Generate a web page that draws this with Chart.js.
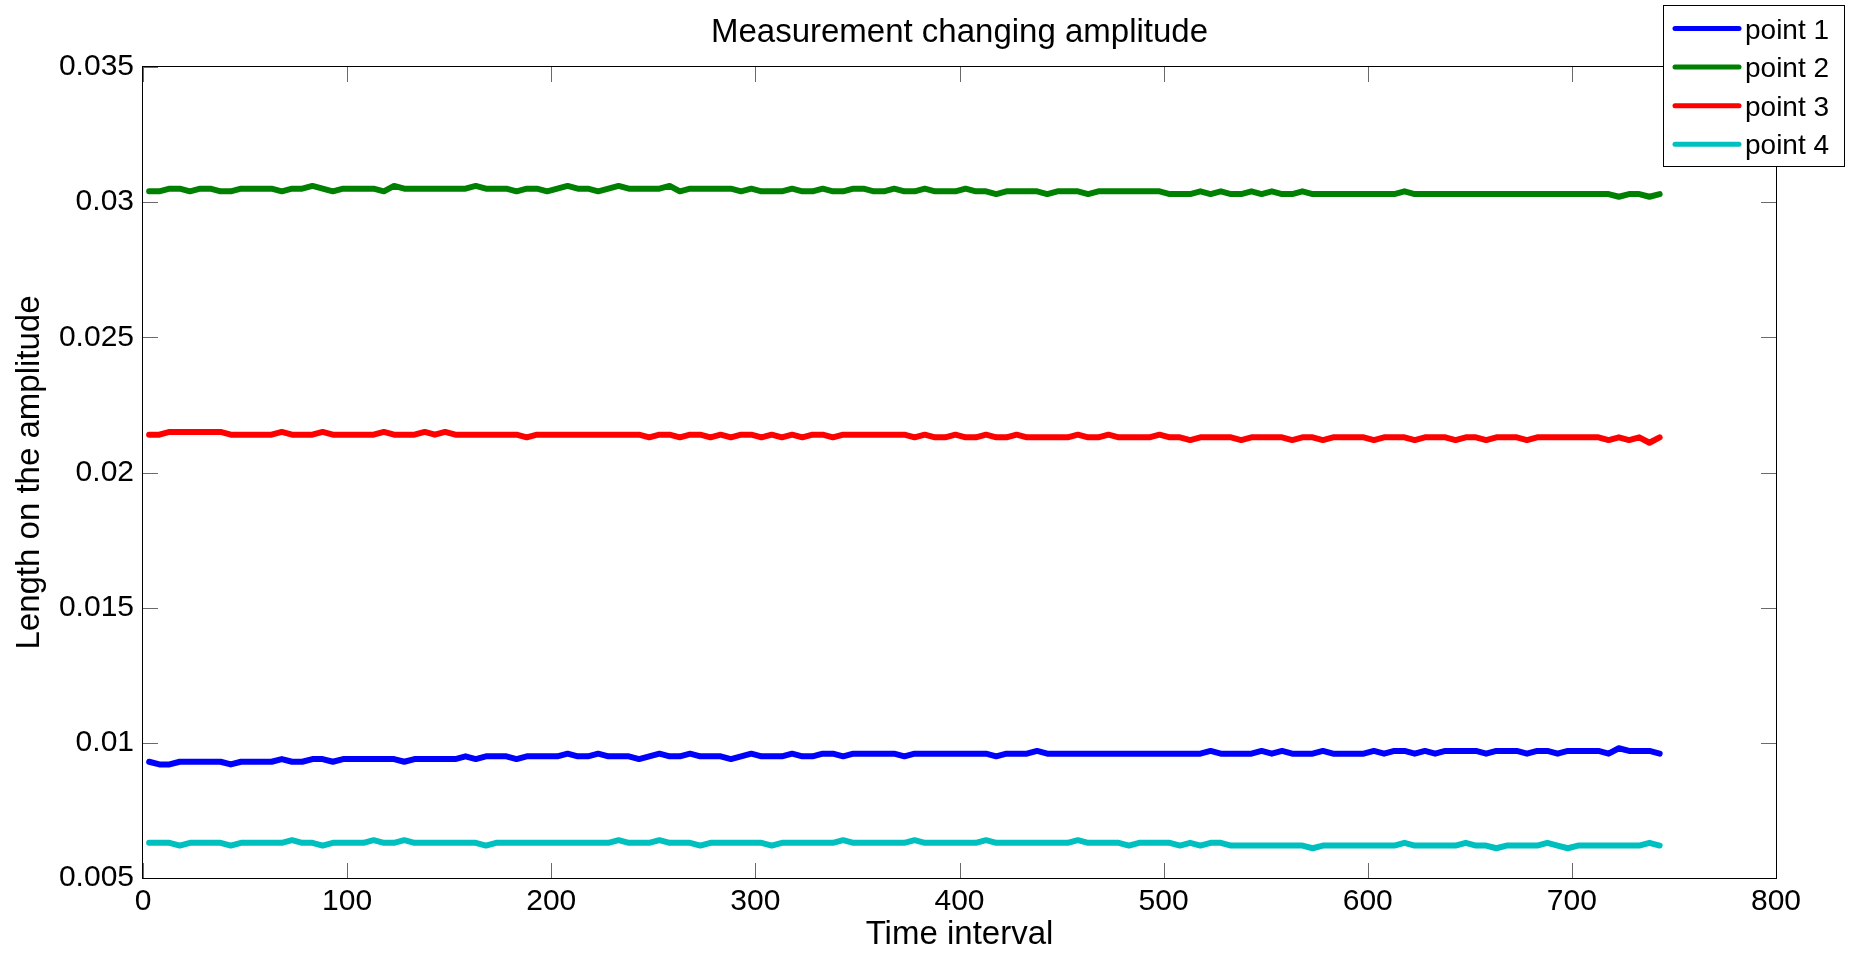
<!DOCTYPE html>
<html>
<head>
<meta charset="utf-8">
<script src="https://cdn.jsdelivr.net/npm/chart.js@4.4.1/dist/chart.umd.min.js"></script>
<style>
html, body { margin: 0; padding: 0; background: #fff; }
canvas { display: block; }
</style>
</head>
<body>
<canvas id="chart" width="1862" height="955"></canvas>
<script>
// time axis (samples) and the four measured points
const timeInterval = [
	3, 8, 13, 18, 23, 28, 33, 38, 43, 48,
	53, 58, 63, 68, 73, 78, 83, 88, 93, 98,
	103, 108, 113, 118, 123, 128, 133, 138, 143, 148,
	153, 158, 163, 168, 173, 178, 183, 188, 193, 198,
	203, 208, 213, 218, 223, 228, 233, 238, 243, 248,
	253, 258, 263, 268, 273, 278, 283, 288, 293, 298,
	303, 308, 313, 318, 323, 328, 333, 338, 343, 348,
	353, 358, 363, 368, 373, 378, 383, 388, 393, 398,
	403, 408, 413, 418, 423, 428, 433, 438, 443, 448,
	453, 458, 463, 468, 473, 478, 483, 488, 493, 498,
	503, 508, 513, 518, 523, 528, 533, 538, 543, 548,
	553, 558, 563, 568, 573, 578, 583, 588, 593, 598,
	603, 608, 613, 618, 623, 628, 633, 638, 643, 648,
	653, 658, 663, 668, 673, 678, 683, 688, 693, 698,
	703, 708, 713, 718, 723, 728, 733, 738, 743,
]

const point1 = [
	0.0093, 0.0092, 0.0092, 0.0093, 0.0093, 0.0093, 0.0093, 0.0093, 0.0092, 0.0093,
	0.0093, 0.0093, 0.0093, 0.0094, 0.0093, 0.0093, 0.0094, 0.0094, 0.0093, 0.0094,
	0.0094, 0.0094, 0.0094, 0.0094, 0.0094, 0.0093, 0.0094, 0.0094, 0.0094, 0.0094,
	0.0094, 0.0095, 0.0094, 0.0095, 0.0095, 0.0095, 0.0094, 0.0095, 0.0095, 0.0095,
	0.0095, 0.0096, 0.0095, 0.0095, 0.0096, 0.0095, 0.0095, 0.0095, 0.0094, 0.0095,
	0.0096, 0.0095, 0.0095, 0.0096, 0.0095, 0.0095, 0.0095, 0.0094, 0.0095, 0.0096,
	0.0095, 0.0095, 0.0095, 0.0096, 0.0095, 0.0095, 0.0096, 0.0096, 0.0095, 0.0096,
	0.0096, 0.0096, 0.0096, 0.0096, 0.0095, 0.0096, 0.0096, 0.0096, 0.0096, 0.0096,
	0.0096, 0.0096, 0.0096, 0.0095, 0.0096, 0.0096, 0.0096, 0.0097, 0.0096, 0.0096,
	0.0096, 0.0096, 0.0096, 0.0096, 0.0096, 0.0096, 0.0096, 0.0096, 0.0096, 0.0096,
	0.0096, 0.0096, 0.0096, 0.0096, 0.0097, 0.0096, 0.0096, 0.0096, 0.0096, 0.0097,
	0.0096, 0.0097, 0.0096, 0.0096, 0.0096, 0.0097, 0.0096, 0.0096, 0.0096, 0.0096,
	0.0097, 0.0096, 0.0097, 0.0097, 0.0096, 0.0097, 0.0096, 0.0097, 0.0097, 0.0097,
	0.0097, 0.0096, 0.0097, 0.0097, 0.0097, 0.0096, 0.0097, 0.0097, 0.0096, 0.0097,
	0.0097, 0.0097, 0.0097, 0.0096, 0.0098, 0.0097, 0.0097, 0.0097, 0.0096,
]

const point2 = [
	0.0304, 0.0304, 0.0305, 0.0305, 0.0304, 0.0305, 0.0305, 0.0304, 0.0304, 0.0305,
	0.0305, 0.0305, 0.0305, 0.0304, 0.0305, 0.0305, 0.0306, 0.0305, 0.0304, 0.0305,
	0.0305, 0.0305, 0.0305, 0.0304, 0.0306, 0.0305, 0.0305, 0.0305, 0.0305, 0.0305,
	0.0305, 0.0305, 0.0306, 0.0305, 0.0305, 0.0305, 0.0304, 0.0305, 0.0305, 0.0304,
	0.0305, 0.0306, 0.0305, 0.0305, 0.0304, 0.0305, 0.0306, 0.0305, 0.0305, 0.0305,
	0.0305, 0.0306, 0.0304, 0.0305, 0.0305, 0.0305, 0.0305, 0.0305, 0.0304, 0.0305,
	0.0304, 0.0304, 0.0304, 0.0305, 0.0304, 0.0304, 0.0305, 0.0304, 0.0304, 0.0305,
	0.0305, 0.0304, 0.0304, 0.0305, 0.0304, 0.0304, 0.0305, 0.0304, 0.0304, 0.0304,
	0.0305, 0.0304, 0.0304, 0.0303, 0.0304, 0.0304, 0.0304, 0.0304, 0.0303, 0.0304,
	0.0304, 0.0304, 0.0303, 0.0304, 0.0304, 0.0304, 0.0304, 0.0304, 0.0304, 0.0304,
	0.0303, 0.0303, 0.0303, 0.0304, 0.0303, 0.0304, 0.0303, 0.0303, 0.0304, 0.0303,
	0.0304, 0.0303, 0.0303, 0.0304, 0.0303, 0.0303, 0.0303, 0.0303, 0.0303, 0.0303,
	0.0303, 0.0303, 0.0303, 0.0304, 0.0303, 0.0303, 0.0303, 0.0303, 0.0303, 0.0303,
	0.0303, 0.0303, 0.0303, 0.0303, 0.0303, 0.0303, 0.0303, 0.0303, 0.0303, 0.0303,
	0.0303, 0.0303, 0.0303, 0.0303, 0.0302, 0.0303, 0.0303, 0.0302, 0.0303,
]

const point3 = [
	0.0214, 0.0214, 0.0215, 0.0215, 0.0215, 0.0215, 0.0215, 0.0215, 0.0214, 0.0214,
	0.0214, 0.0214, 0.0214, 0.0215, 0.0214, 0.0214, 0.0214, 0.0215, 0.0214, 0.0214,
	0.0214, 0.0214, 0.0214, 0.0215, 0.0214, 0.0214, 0.0214, 0.0215, 0.0214, 0.0215,
	0.0214, 0.0214, 0.0214, 0.0214, 0.0214, 0.0214, 0.0214, 0.0213, 0.0214, 0.0214,
	0.0214, 0.0214, 0.0214, 0.0214, 0.0214, 0.0214, 0.0214, 0.0214, 0.0214, 0.0213,
	0.0214, 0.0214, 0.0213, 0.0214, 0.0214, 0.0213, 0.0214, 0.0213, 0.0214, 0.0214,
	0.0213, 0.0214, 0.0213, 0.0214, 0.0213, 0.0214, 0.0214, 0.0213, 0.0214, 0.0214,
	0.0214, 0.0214, 0.0214, 0.0214, 0.0214, 0.0213, 0.0214, 0.0213, 0.0213, 0.0214,
	0.0213, 0.0213, 0.0214, 0.0213, 0.0213, 0.0214, 0.0213, 0.0213, 0.0213, 0.0213,
	0.0213, 0.0214, 0.0213, 0.0213, 0.0214, 0.0213, 0.0213, 0.0213, 0.0213, 0.0214,
	0.0213, 0.0213, 0.0212, 0.0213, 0.0213, 0.0213, 0.0213, 0.0212, 0.0213, 0.0213,
	0.0213, 0.0213, 0.0212, 0.0213, 0.0213, 0.0212, 0.0213, 0.0213, 0.0213, 0.0213,
	0.0212, 0.0213, 0.0213, 0.0213, 0.0212, 0.0213, 0.0213, 0.0213, 0.0212, 0.0213,
	0.0213, 0.0212, 0.0213, 0.0213, 0.0213, 0.0212, 0.0213, 0.0213, 0.0213, 0.0213,
	0.0213, 0.0213, 0.0213, 0.0212, 0.0213, 0.0212, 0.0213, 0.0211, 0.0213,
]

const point4 = [
	0.0063, 0.0063, 0.0063, 0.0062, 0.0063, 0.0063, 0.0063, 0.0063, 0.0062, 0.0063,
	0.0063, 0.0063, 0.0063, 0.0063, 0.0064, 0.0063, 0.0063, 0.0062, 0.0063, 0.0063,
	0.0063, 0.0063, 0.0064, 0.0063, 0.0063, 0.0064, 0.0063, 0.0063, 0.0063, 0.0063,
	0.0063, 0.0063, 0.0063, 0.0062, 0.0063, 0.0063, 0.0063, 0.0063, 0.0063, 0.0063,
	0.0063, 0.0063, 0.0063, 0.0063, 0.0063, 0.0063, 0.0064, 0.0063, 0.0063, 0.0063,
	0.0064, 0.0063, 0.0063, 0.0063, 0.0062, 0.0063, 0.0063, 0.0063, 0.0063, 0.0063,
	0.0063, 0.0062, 0.0063, 0.0063, 0.0063, 0.0063, 0.0063, 0.0063, 0.0064, 0.0063,
	0.0063, 0.0063, 0.0063, 0.0063, 0.0063, 0.0064, 0.0063, 0.0063, 0.0063, 0.0063,
	0.0063, 0.0063, 0.0064, 0.0063, 0.0063, 0.0063, 0.0063, 0.0063, 0.0063, 0.0063,
	0.0063, 0.0064, 0.0063, 0.0063, 0.0063, 0.0063, 0.0062, 0.0063, 0.0063, 0.0063,
	0.0063, 0.0062, 0.0063, 0.0062, 0.0063, 0.0063, 0.0062, 0.0062, 0.0062, 0.0062,
	0.0062, 0.0062, 0.0062, 0.0062, 0.0061, 0.0062, 0.0062, 0.0062, 0.0062, 0.0062,
	0.0062, 0.0062, 0.0062, 0.0063, 0.0062, 0.0062, 0.0062, 0.0062, 0.0062, 0.0063,
	0.0062, 0.0062, 0.0061, 0.0062, 0.0062, 0.0062, 0.0062, 0.0063, 0.0062, 0.0061,
	0.0062, 0.0062, 0.0062, 0.0062, 0.0062, 0.0062, 0.0062, 0.0063, 0.0062,
]

const seriesNames = ['point 1', 'point 2', 'point 3', 'point 4']
const seriesColors = ['#0000ff', '#008000', '#ff0000', '#00bfbf']
const xTickValues = [0, 100, 200, 300, 400, 500, 600, 700, 800]
const yTickValues = [0.005, 0.01, 0.015, 0.02, 0.025, 0.03, 0.035]

const titleText = 'Measurement changing amplitude'
const xTitle = 'Time interval'
const yTitle = 'Length on the amplitude'
const fontFamily = '"Liberation Sans", Arial, sans-serif'

// matlab-ish frame, inner ticks, title and legend box
const matlabDecor = {
	id: 'matlabDecor',
	afterDatasetsDraw(chart) {
		const { ctx, chartArea: a, scales } = chart
		ctx.save()
		ctx.lineWidth = 1
		ctx.strokeStyle = '#6a6a6a'
		ctx.beginPath()
		xTickValues.forEach((v) => {
			const px = Math.round(scales.x.getPixelForValue(v)) + 0.5
			ctx.moveTo(px, a.bottom)
			ctx.lineTo(px, a.bottom - 15)
			ctx.moveTo(px, a.top)
			ctx.lineTo(px, a.top + 15)
		})
		yTickValues.forEach((v) => {
			const py = Math.round(scales.y.getPixelForValue(v)) + 0.5
			ctx.moveTo(a.left, py)
			ctx.lineTo(a.left + 15, py)
			ctx.moveTo(a.right, py)
			ctx.lineTo(a.right - 15, py)
		})
		ctx.stroke()

		ctx.strokeStyle = '#000'
		ctx.strokeRect(a.left - 0.5, a.top - 0.5, a.right - a.left + 1, a.bottom - a.top + 1)

		ctx.fillStyle = '#000'
		ctx.font = '33px ' + fontFamily
		ctx.textAlign = 'center'
		ctx.textBaseline = 'alphabetic'
		ctx.fillText(titleText, (a.left + a.right) / 2, 42)
		ctx.restore()
	},
	afterDraw(chart) {
		const ctx = chart.ctx
		ctx.save()
		ctx.fillStyle = '#fff'
		ctx.fillRect(1663, 5, 181, 161)
		ctx.strokeStyle = '#000'
		ctx.lineWidth = 1
		ctx.strokeRect(1663.5, 5.5, 181, 161)
		ctx.font = '28px ' + fontFamily
		ctx.textAlign = 'left'
		ctx.textBaseline = 'alphabetic'
		seriesNames.forEach((name, i) => {
			const ly = 28.5 + i * 38.6
			ctx.strokeStyle = seriesColors[i]
			ctx.lineWidth = 5
			ctx.lineCap = 'round'
			ctx.beginPath()
			ctx.moveTo(1675, ly)
			ctx.lineTo(1739, ly)
			ctx.stroke()
			ctx.fillStyle = '#000'
			ctx.fillText(name, 1745, ly + 10)
		})
		ctx.restore()
	},
}

const seriesList = [point1, point2, point3, point4]
const datasets = seriesList.map((vals, i) => ({
	label: seriesNames[i],
	data: timeInterval.map((t, j) => ({ x: t, y: vals[j] })),
	borderColor: seriesColors[i],
	backgroundColor: seriesColors[i],
	borderWidth: 6,
	borderCapStyle: 'round',
	borderJoinStyle: 'round',
	pointRadius: 0,
	tension: 0,
	fill: false,
}))

const ctx = document.getElementById('chart').getContext('2d')
const chart = new Chart(ctx, {
	type: 'line',
	data: { datasets: datasets },
	options: {
		responsive: false,
		animation: false,
		devicePixelRatio: 1,
		layout: { padding: { left: 0, right: 86, top: 67, bottom: 0 } },
		plugins: {
			legend: { display: false },
			title: { display: false },
			tooltip: { enabled: false },
		},
		scales: {
			x: {
				type: 'linear',
				min: 0,
				max: 800,
				afterBuildTicks: (s) => { s.ticks = xTickValues.map((v) => ({ value: v })) },
				afterFit: (s) => { s.height = 77 },
				grid: { display: false, drawTicks: false },
				border: { display: false },
				ticks: {
					color: '#000',
					font: { family: fontFamily, size: 30 },
					padding: 6,
					maxRotation: 0,
					autoSkip: false,
				},
				title: {
					display: true,
					text: xTitle,
					color: '#000',
					font: { family: fontFamily, size: 33 },
					padding: { top: 0, bottom: 0 },
				},
			},
			y: {
				type: 'linear',
				min: 0.005,
				max: 0.035,
				afterBuildTicks: (s) => { s.ticks = yTickValues.map((v) => ({ value: v })) },
				afterFit: (s) => { s.width = 143 },
				grid: { display: false, drawTicks: false },
				border: { display: false },
				ticks: {
					color: '#000',
					font: { family: fontFamily, size: 30 },
					padding: 9,
					autoSkip: false,
					callback: (v) => String(parseFloat(v.toFixed(4))),
				},
				title: {
					display: true,
					text: yTitle,
					color: '#000',
					font: { family: fontFamily, size: 33 },
					padding: { top: 10, bottom: 0 },
				},
			},
		},
	},
	plugins: [matlabDecor],
})
</script>
</body>
</html>
